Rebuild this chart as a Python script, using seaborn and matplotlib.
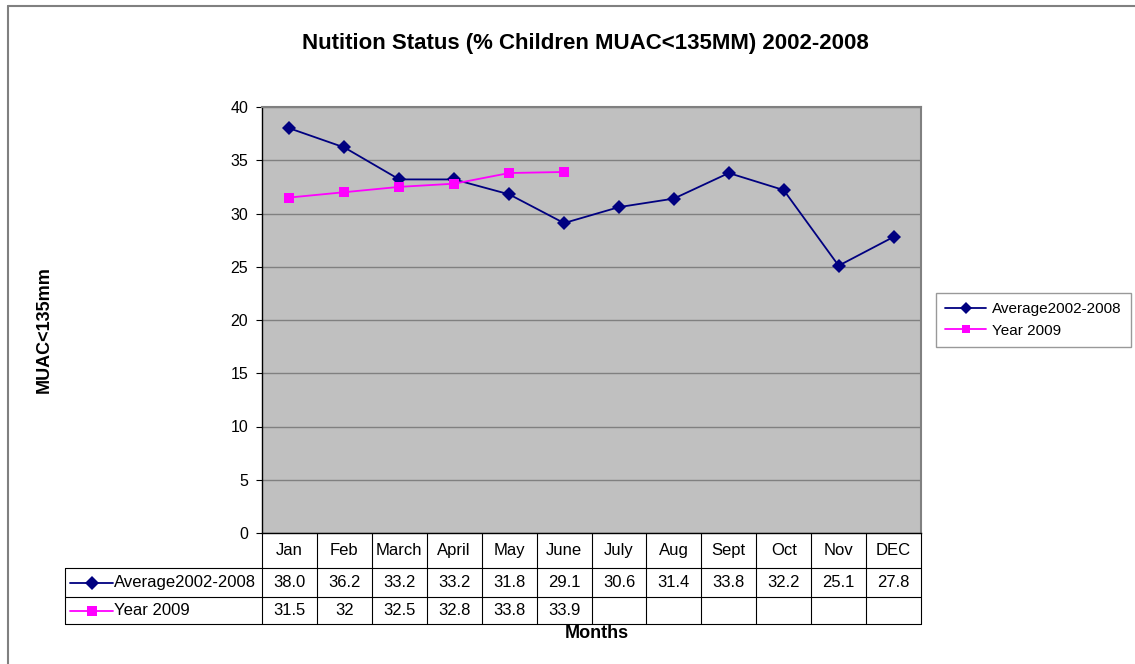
import pandas as pd
import matplotlib.pyplot as plt
import seaborn as sns
from matplotlib.lines import Line2D

# Nutrition status chart - monthly % children MUAC<135mm
months = ['Jan', 'Feb', 'March', 'April', 'May', 'June', 'July', 'Aug', 'Sept', 'Oct', 'Nov', 'DEC']
avg_2002_2008 = [38.0, 36.2, 33.2, 33.2, 31.8, 29.1, 30.6, 31.4, 33.8, 32.2, 25.1, 27.8]
year_2009 = [31.5, 32, 32.5, 32.8, 33.8, 33.9]
series_names = ['Average2002-2008', 'Year 2009']
yticks = [0, 5, 10, 15, 20, 25, 30, 35, 40]

# long format for seaborn
df = pd.concat([
    pd.DataFrame({'month': months, 'value': avg_2002_2008, 'series': series_names[0]}),
    pd.DataFrame({'month': months[:len(year_2009)], 'value': year_2009, 'series': series_names[1]}),
])

sns.set_style('white', {'text.color': 'black', 'axes.labelcolor': 'black',
                        'xtick.color': 'black', 'ytick.color': 'black'})
plt.rcParams['font.family'] = ['Liberation Sans', 'DejaVu Sans']

W, H = 1135, 664
fig = plt.figure(figsize=(W / 100, H / 100), dpi=100)
ax = fig.add_axes([262 / W, 1 - 533 / H, 659 / W, 426 / H])
ax.set_facecolor('#C0C0C0')

colors = ['#000080', '#FF00FF']
sns.lineplot(data=df, x='month', y='value', hue='series', style='series',
             markers=['D', 's'], dashes=False, palette=colors, sort=False,
             markersize=7.5, linewidth=1.3, markeredgewidth=0, legend=False, ax=ax)

ax.set_xlim(-0.5, len(months) - 0.5)
ax.set_ylim(0, 40)
ax.set_yticks(yticks)
ax.set_xticks([])
ax.set_xlabel('')
ax.set_ylabel('')
ax.tick_params(axis='y', labelsize=11.5, length=4, pad=6, direction='out', left=True,
               color='black', labelcolor='black')
ax.grid(axis='y', color='#808080', linewidth=1)
ax.set_axisbelow(True)
for side in ['top', 'right']:
    ax.spines[side].set_color('#808080')
    ax.spines[side].set_linewidth(1.5)
for side in ['left', 'bottom']:
    ax.spines[side].set_color('black')
    ax.spines[side].set_linewidth(1)

# data table under the plot
xt = ax.get_xaxis_transform()
y_r1 = -35 / 426
y_r2 = -64 / 426
y_bot = -91 / 426
x_left = (65 - 262) / 659
line_kw = dict(color='black', linewidth=0.8, clip_on=False)
for i in range(len(months) + 1):
    ax.add_line(Line2D([i - 0.5, i - 0.5], [0, y_bot], transform=xt, **line_kw))
for yy in [y_r1, y_r2, y_bot]:
    ax.add_line(Line2D([x_left, 1], [yy, yy], transform=ax.transAxes, **line_kw))
ax.add_line(Line2D([x_left, x_left], [y_r1, y_bot], transform=ax.transAxes, **line_kw))

for i, m in enumerate(months):
    ax.text(i, y_r1 / 2, m, transform=xt, ha='center', va='center', fontsize=12, color='black')
for i, v in enumerate(avg_2002_2008):
    ax.text(i, (y_r1 + y_r2) / 2, f'{v:.1f}', transform=xt, ha='center', va='center', fontsize=12, color='black')
for i, v in enumerate(year_2009):
    ax.text(i, (y_r2 + y_bot) / 2, f'{v:g}', transform=xt, ha='center', va='center', fontsize=12, color='black')

# row labels with legend keys
for k, (name, yy) in enumerate(zip(series_names, [(y_r1 + y_r2) / 2, (y_r2 + y_bot) / 2])):
    ax.add_line(Line2D([(70 - 262) / 659, (113 - 262) / 659], [yy, yy], transform=ax.transAxes,
                       color=colors[k], linewidth=1.3, clip_on=False))
    ax.add_line(Line2D([(91.5 - 262) / 659], [yy], transform=ax.transAxes, color=colors[k],
                       marker=['D', 's'][k], markersize=7, markeredgewidth=0, clip_on=False))
    ax.text((114 - 262) / 659, yy, name, transform=ax.transAxes, ha='left', va='center',
            fontsize=12, color='black')

ax.text(0.508, -100 / 426, 'Months', transform=ax.transAxes, ha='center', va='center',
        fontsize=13, fontweight='bold', color='black')

fig.text(585 / W, 1 - 44 / H, 'Nutition Status (% Children MUAC<135MM) 2002-2008',
         ha='center', va='center', fontsize=16, fontweight='bold', color='black')
fig.text(44 / W, 1 - 330 / H, 'MUAC<135mm', rotation=90, ha='center', va='center',
         fontsize=13, fontweight='bold', color='black')

# legend on the right
handles = [Line2D([], [], color=colors[0], marker='D', markersize=6, markeredgewidth=0, linewidth=1.3),
           Line2D([], [], color=colors[1], marker='s', markersize=6, markeredgewidth=0, linewidth=1.3)]
leg = fig.legend(handles, series_names, loc='upper left', bbox_to_anchor=(936 / W, 1 - 293 / H),
                 frameon=True, fancybox=False, edgecolor='#808080', fontsize=11,
                 borderaxespad=0, handlelength=2.7, handletextpad=0.35, borderpad=0.6,
                 labelspacing=0.5, labelcolor='black')
leg.get_frame().set_linewidth(1)

# outer chart border (top and left visible)
fig.add_artist(Line2D([8 / W, 1], [1 - 6 / H, 1 - 6 / H], transform=fig.transFigure, color='#808080', linewidth=1.5))
fig.add_artist(Line2D([8 / W, 8 / W], [1 - 6 / H, 0], transform=fig.transFigure, color='#808080', linewidth=1.5))

fig.savefig('out.png', dpi=100, facecolor='white')
